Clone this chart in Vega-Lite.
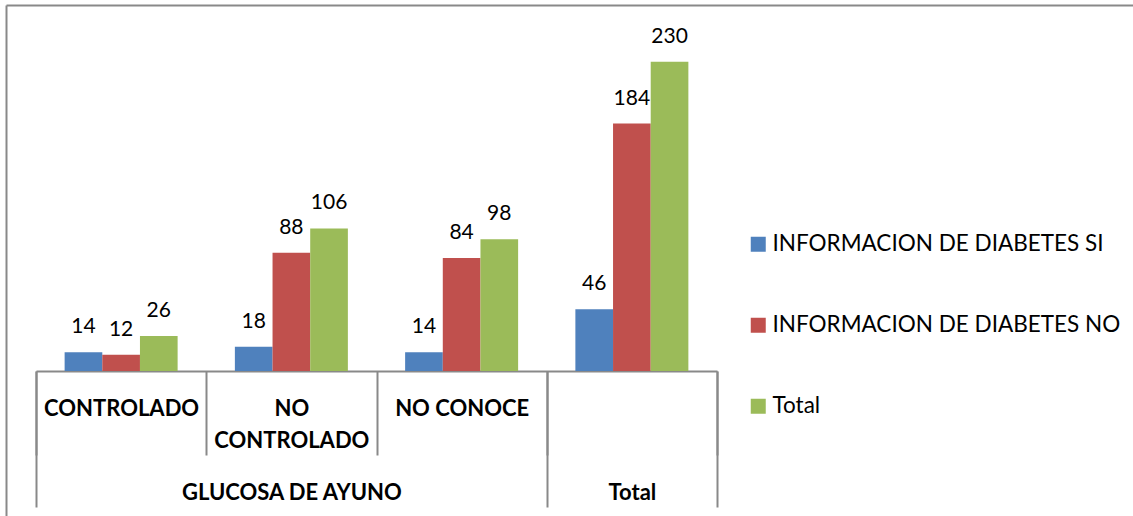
{
  "$schema": "https://vega.github.io/schema/vega-lite/v6.json",
  "width": 1127,
  "height": 511,
  "autosize": {"type": "none"},
  "padding": {"left": 6, "top": 5, "right": 0, "bottom": 0},
  "background": "white",
  "config": {
    "view": {"stroke": null},
    "font": "Lato"
  },
  "data": {
    "values": [
      {"cat": "CONTROLADO", "series": "INFORMACION DE DIABETES SI", "value": 14},
      {"cat": "CONTROLADO", "series": "INFORMACION DE DIABETES NO", "value": 12},
      {"cat": "CONTROLADO", "series": "Total", "value": 26},
      {"cat": "NO CONTROLADO", "series": "INFORMACION DE DIABETES SI", "value": 18},
      {"cat": "NO CONTROLADO", "series": "INFORMACION DE DIABETES NO", "value": 88},
      {"cat": "NO CONTROLADO", "series": "Total", "value": 106},
      {"cat": "NO CONOCE", "series": "INFORMACION DE DIABETES SI", "value": 14},
      {"cat": "NO CONOCE", "series": "INFORMACION DE DIABETES NO", "value": 84},
      {"cat": "NO CONOCE", "series": "Total", "value": 98},
      {"cat": "Total", "series": "INFORMACION DE DIABETES SI", "value": 46},
      {"cat": "Total", "series": "INFORMACION DE DIABETES NO", "value": 184},
      {"cat": "Total", "series": "Total", "value": 230}
    ]
  },
  "layer": [
    {
      "encoding": {
        "x": {
          "field": "cat",
          "type": "nominal",
          "sort": ["CONTROLADO", "NO CONTROLADO", "NO CONOCE", "Total"],
          "scale": {"domain": ["CONTROLADO", "NO CONTROLADO", "NO CONOCE", "Total"], "range": [30, 711], "paddingInner": 0, "paddingOuter": 0},
          "axis": {
            "title": null,
            "orient": "bottom",
            "offset": -145,
            "tickBand": "extent",
            "tickSize": 84,
            "tickColor": "#898989",
            "tickWidth": 2,
            "domainColor": "#898989",
            "domainWidth": 2,
            "labelFont": "Lato",
            "labelFontWeight": "bold",
            "labelFontSize": 22,
            "labelColor": "black",
            "labelBaseline": "top",
            "labelPadding": -57,
            "labelLineHeight": 32,
            "labelAngle": 0,
            "labelLimit": 0,
            "labelOverlap": false,
            "labelExpr": "datum.label == 'NO CONTROLADO' ? ['NO', 'CONTROLADO'] : (datum.label == 'Total' ? '' : datum.label)"
          }
        },
        "xOffset": {
          "field": "series",
          "type": "nominal",
          "sort": ["INFORMACION DE DIABETES SI", "INFORMACION DE DIABETES NO", "Total"],
          "scale": {"paddingInner": 0, "paddingOuter": 0.76}
        },
        "y": {
          "field": "value",
          "type": "quantitative",
          "scale": {"domain": [0, 272.2], "range": [366, 0], "nice": false},
          "axis": null
        }
      },
      "layer": [
        {
          "mark": {"type": "bar"},
          "encoding": {
            "color": {
              "field": "series",
              "type": "nominal",
              "scale": {
                "domain": ["INFORMACION DE DIABETES SI", "INFORMACION DE DIABETES NO", "Total"],
                "range": ["#4F81BD", "#C0504D", "#9BBB59"]
              },
              "legend": {
                "title": null,
                "orient": "none",
                "legendX": 741,
                "legendY": 228,
                "symbolType": "square",
                "symbolSize": 225,
                "symbolStrokeWidth": 0,
                "symbolOpacity": 1,
                "labelFont": "Lato",
                "labelFontSize": 22.5,
                "labelColor": "black",
                "labelOffset": 3,
                "labelLimit": 0,
                "rowPadding": 58
              }
            }
          }
        },
        {
          "mark": {"type": "text", "baseline": "alphabetic", "dy": -19, "fontSize": 21, "font": "Lato", "color": "black"},
          "encoding": {"text": {"field": "value", "type": "quantitative"}}
        }
      ]
    },
    {
      "mark": {"type": "point", "opacity": 0},
      "encoding": {
        "x": {
          "datum": 2,
          "type": "quantitative",
          "scale": {"domain": [0, 4], "range": [30, 711], "nice": false, "zero": false},
          "axis": {
            "title": null,
            "orient": "bottom",
            "offset": -145,
            "values": [0, 1.5, 3, 3.5, 4],
            "domain": false,
            "grid": false,
            "tickSize": 136,
            "tickColor": "#898989",
            "tickWidth": 2,
            "tickOpacity": {"condition": {"test": "datum.value == 1.5 || datum.value == 3.5", "value": 0}, "value": 1},
            "labelExpr": "datum.value == 1.5 ? 'GLUCOSA DE AYUNO' : (datum.value == 3.5 ? 'Total' : '')",
            "labelFont": "Lato",
            "labelFontWeight": "bold",
            "labelFontSize": 22,
            "labelColor": "black",
            "labelBaseline": "top",
            "labelPadding": -25,
            "labelOverlap": false,
            "labelFlush": false,
            "labelBound": false,
            "labelLimit": 0
          }
        }
      }
    },
    {
      "mark": {"type": "point", "opacity": 0},
      "encoding": {
        "x": {
          "datum": 0,
          "type": "quantitative",
          "scale": {"domain": [0, 1], "range": [0, 1127], "nice": false, "zero": false},
          "axis": {
            "title": null,
            "orient": "top",
            "domain": true,
            "domainColor": "#898989",
            "domainWidth": 2,
            "ticks": false,
            "labels": false,
            "grid": false
          }
        },
        "y": {
          "datum": 0,
          "type": "quantitative",
          "scale": {"domain": [0, 1], "range": [511, 0], "nice": false, "zero": false},
          "axis": {
            "title": null,
            "orient": "left",
            "domain": true,
            "domainColor": "#898989",
            "domainWidth": 2,
            "ticks": false,
            "labels": false,
            "grid": false
          }
        }
      }
    }
  ],
  "resolve": {"scale": {"x": "independent", "y": "independent"}}
}
